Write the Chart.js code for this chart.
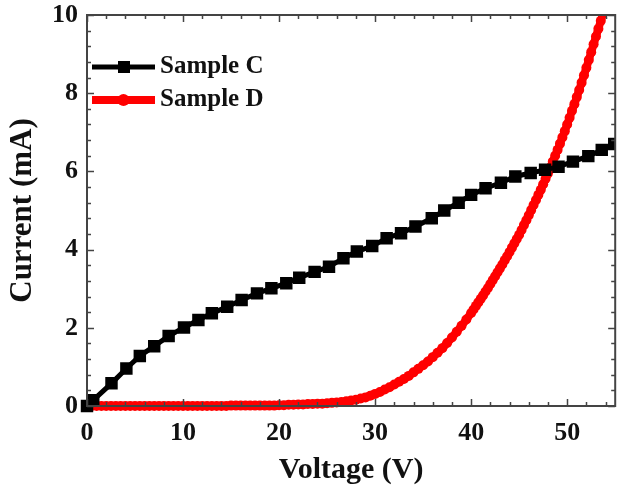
<!DOCTYPE html>
<html><head><meta charset="utf-8">
<script src="https://cdn.jsdelivr.net/npm/chart.js@4.4.1/dist/chart.umd.min.js"></script>
<style>html,body{margin:0;padding:0;background:#fff}#wrap{width:624px;height:488px}</style>
</head><body><div id="wrap"><canvas id="c" width="624" height="488"></canvas></div>
<script>
const seriesNames = ['Sample C', 'Sample D'];
const axisTitles = ['Voltage (V)', 'Current (mA)'];

const sampleCVoltage = [0, 0.65, 2.55, 4.1, 5.5, 7.0, 8.5, 10.1, 11.6, 13.0, 14.6, 16.1, 17.7, 19.2,
  20.75, 22.1, 23.7, 25.2, 26.7, 28.1, 29.7, 31.2, 32.7, 34.2, 35.9, 37.2, 38.7, 40.0, 41.5,
  43.1, 44.6, 46.2, 47.7, 49.1, 50.6, 52.2, 53.6, 54.9];
const sampleCCurrent = [0, 0.15, 0.58, 0.96, 1.28, 1.53, 1.79, 2.01, 2.20, 2.37, 2.54, 2.71, 2.88, 3.01,
  3.14, 3.28, 3.43, 3.56, 3.78, 3.95, 4.09, 4.29, 4.42, 4.59, 4.80, 5.00, 5.20, 5.40, 5.57,
  5.71, 5.87, 5.96, 6.04, 6.12, 6.25, 6.39, 6.55, 6.70];

const sampleDVoltage = [
  0, 0.5, 1, 1.5, 2, 2.5, 3, 3.5, 4, 4.5, 5, 5.5, 6, 6.5, 7, 7.5, 8, 8.5, 9, 9.5,
  10, 10.5, 11, 11.5, 12, 12.5, 13, 13.5, 14, 14.5, 15, 15.5, 16, 16.5, 17, 17.5, 18, 18.5, 19, 19.5,
  20, 20.5, 21, 21.5, 22, 22.5, 23, 23.5, 24, 24.5, 25, 25.5, 26, 26.5, 27, 27.5, 28, 28.5, 29, 29.5,
  30, 30.5, 31, 31.5, 32, 32.5, 33, 33.5, 34, 34.5, 35, 35.5, 36, 36.5, 37, 37.5, 38, 38.5, 39, 39.5,
  40, 40.25, 40.5, 40.75, 41, 41.25, 41.5, 41.75, 42, 42.25, 42.5, 42.75, 43, 43.25, 43.5, 43.75,
  44, 44.25, 44.5, 44.75, 45, 45.25, 45.5, 45.75, 46, 46.25, 46.5, 46.75, 47, 47.25, 47.5, 47.75,
  48, 48.25, 48.5, 48.75, 49, 49.25, 49.5, 49.75, 50, 50.25, 50.5, 50.75, 51, 51.25, 51.5, 51.75,
  52, 52.25, 52.5, 52.75, 53, 53.25, 53.5, 53.75, 54];
const sampleDCurrent = [
  0, 0, 0, 0, 0, 0, 0, 0, 0, 0, 0, 0, 0, 0, 0, 0, 0, 0, 0, 0,
  0, 0, 0, 0, 0, 0, 0, 0, 0, 0, 0.01, 0.01, 0.01, 0.01, 0.01, 0.01, 0.01, 0.01, 0.01, 0.01,
  0.02, 0.02, 0.03, 0.03, 0.04, 0.04, 0.05, 0.05, 0.06, 0.06, 0.07, 0.08, 0.09, 0.10, 0.12, 0.14, 0.16, 0.19, 0.22, 0.26,
  0.31, 0.36, 0.42, 0.48, 0.55, 0.62, 0.69, 0.77, 0.86, 0.95, 1.04, 1.14, 1.25, 1.36, 1.48, 1.61, 1.75, 1.90, 2.05, 2.21,
  2.38, 2.47, 2.56, 2.65, 2.74, 2.83, 2.93, 3.02, 3.12, 3.22, 3.32, 3.42, 3.52, 3.62, 3.73, 3.83,
  3.94, 4.05, 4.16, 4.27, 4.38, 4.50, 4.63, 4.75, 4.88, 5.01, 5.14, 5.27, 5.40, 5.53, 5.67, 5.81,
  5.95, 6.10, 6.25, 6.40, 6.55, 6.71, 6.87, 7.03, 7.20, 7.37, 7.55, 7.72, 7.90, 8.08, 8.27, 8.46,
  8.65, 8.85, 9.05, 9.25, 9.45, 9.65, 9.85, 10.05, 10.25];

const xMajorTicks = [0, 10, 20, 30, 40, 50];
const xMinorTicks = [2, 4, 6, 8, 12, 14, 16, 18, 22, 24, 26, 28, 32, 34, 36, 38, 42, 44, 46, 48, 52, 54];
const yMajorTicks = [0, 2, 4, 6, 8, 10];
const yMinorTicks = [0.4, 0.8, 1.2, 1.6, 2.4, 2.8, 3.2, 3.6, 4.4, 4.8, 5.2, 5.6, 6.4, 6.8, 7.2, 7.6, 8.4, 8.8, 9.2, 9.6];

const FONT = "'Liberation Serif', 'Times New Roman', serif";
const INK = '#111';
const FRAME = '#444';

const toPoints = (xs, ys) => xs.map((x, i) => ({x: x, y: ys[i]}));

const frameTicks = {
  id: 'frameTicks',
  afterDraw(chart) {
    const {ctx, chartArea: a, scales: {x, y}} = chart;
    ctx.save();
    ctx.strokeStyle = FRAME;
    ctx.lineWidth = 1.5;
    const tick = (vals, len) => {
      vals.forEach(v => {
        const px = Math.round(x.getPixelForValue(v)) + 0.5;
        ctx.beginPath();
        ctx.moveTo(px, a.bottom); ctx.lineTo(px, a.bottom - len);
        ctx.moveTo(px, a.top); ctx.lineTo(px, a.top + len);
        ctx.stroke();
      });
    };
    const tickY = (vals, len) => {
      vals.forEach(v => {
        const py = Math.round(y.getPixelForValue(v)) + 0.5;
        ctx.beginPath();
        ctx.moveTo(a.left, py); ctx.lineTo(a.left + len, py);
        ctx.moveTo(a.right, py); ctx.lineTo(a.right - len, py);
        ctx.stroke();
      });
    };
    tick(xMajorTicks, 7); tick(xMinorTicks, 4);
    tickY(yMajorTicks, 7); tickY(yMinorTicks, 4);
    ctx.lineWidth = 2;
    ctx.strokeRect(a.left, a.top, a.right - a.left, a.bottom - a.top);
    ctx.restore();
  }
};

const insetLegend = {
  id: 'insetLegend',
  afterDraw(chart) {
    const {ctx} = chart;
    const rows = [
      {y: 67, ds: chart.data.datasets[0]},
      {y: 100, ds: chart.data.datasets[1]}
    ];
    ctx.save();
    rows.forEach(r => {
      ctx.strokeStyle = r.ds.borderColor;
      ctx.lineWidth = r.ds.borderWidth;
      ctx.beginPath(); ctx.moveTo(92, r.y); ctx.lineTo(155, r.y); ctx.stroke();
      ctx.fillStyle = r.ds.pointBackgroundColor;
      if (r.ds.pointStyle === 'rect') {
        ctx.fillRect(118, r.y - 6, 12, 12);
      } else {
        ctx.beginPath(); ctx.arc(123.5, r.y, 6, 0, Math.PI * 2); ctx.fill();
      }
      ctx.fillStyle = INK;
      ctx.font = "bold 25px " + FONT;
      ctx.textBaseline = 'middle';
      ctx.textAlign = 'left';
      ctx.fillText(r.ds.label, 160, r.y);
    });
    ctx.restore();
  }
};

new Chart(document.getElementById('c'), {
  type: 'line',
  data: {
    datasets: [
      {
        label: seriesNames[0],
        data: toPoints(sampleCVoltage, sampleCCurrent),
        borderColor: '#000',
        backgroundColor: '#000',
        borderWidth: 5,
        pointStyle: 'rect',
        pointRadius: 8.8,
        pointBackgroundColor: '#000',
        pointBorderWidth: 0,
        tension: 0,
        clip: {left: 12, top: 0, right: 0, bottom: 12}
      },
      {
        label: seriesNames[1],
        data: toPoints(sampleDVoltage, sampleDCurrent),
        borderColor: '#ff0000',
        backgroundColor: '#ff0000',
        borderWidth: 8,
        pointStyle: 'circle',
        pointRadius: 5,
        pointBackgroundColor: '#ff0000',
        pointBorderWidth: 0,
        tension: 0,
        clip: {left: 12, top: 0, right: 0, bottom: 12}
      }
    ]
  },
  options: {
    responsive: false,
    animation: false,
    devicePixelRatio: 1,
    layout: {padding: {top: 15, right: 0, left: 0, bottom: 0}},
    plugins: {legend: {display: false}, tooltip: {enabled: false}},
    scales: {
      x: {
        type: 'linear', min: 0, max: 55,
        grid: {display: false, drawTicks: false, tickLength: 0},
        border: {display: false},
        ticks: {stepSize: 10, includeBounds: false, padding: 12, color: INK,
                font: {family: FONT, size: 26, weight: 'bold'}},
        title: {display: true, text: axisTitles[0], color: INK, padding: {top: 0, bottom: 0},
                font: {family: FONT, size: 30, weight: 'bold'}},
        afterFit(s) { s.height = 82; s.paddingLeft = 0; s.paddingRight = 0; }
      },
      y: {
        type: 'linear', min: 0, max: 10,
        grid: {display: false, drawTicks: false, tickLength: 0},
        border: {display: false},
        ticks: {stepSize: 2, padding: 9, color: INK,
                font: {family: FONT, size: 26, weight: 'bold'}},
        title: {display: true, text: axisTitles[1], color: INK, padding: {top: 4, bottom: 0},
                font: {family: FONT, size: 31, weight: 'bold'}},
        afterFit(s) { s.width = 87; s.paddingTop = 0; s.paddingBottom = 0; }
      }
    }
  },
  plugins: [frameTicks, insetLegend]
});
</script>
</body></html>
